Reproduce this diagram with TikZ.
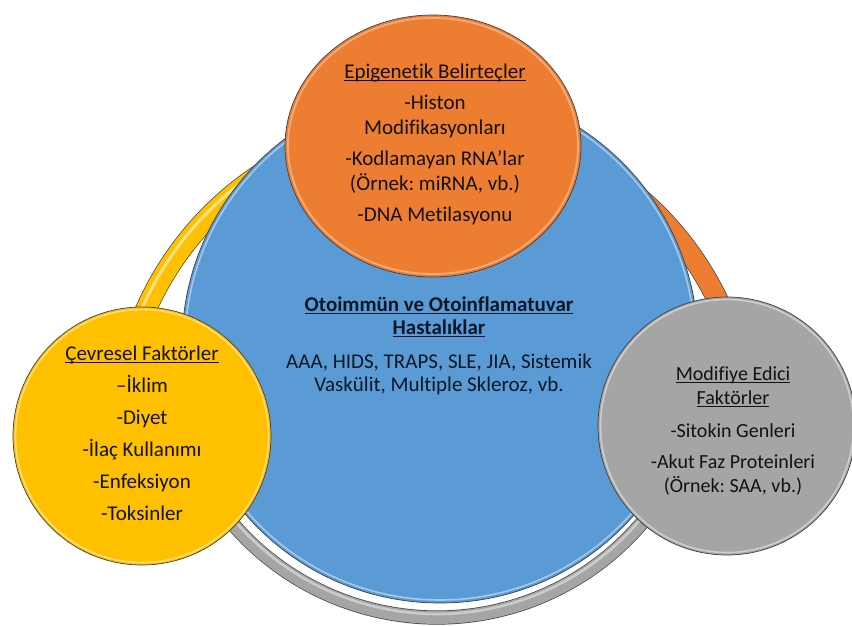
\documentclass[tikz,border=0pt]{standalone}
\usepackage{fontspec}
\setmainfont{Carlito}[Ligatures=NoCommon]
\frenchspacing
\usetikzlibrary{shapes.geometric}
\definecolor{cblue}{HTML}{5B9BD5}
\definecolor{corange}{HTML}{ED7D31}
\definecolor{cyellow}{HTML}{FFC000}
\definecolor{cgray}{HTML}{A5A5A5}
\definecolor{ctext}{HTML}{121212}
\definecolor{cbluetext}{HTML}{0E1726}
\definecolor{cline}{HTML}{404040}
\newcommand\ulx[1]{\setbox0\hbox{#1}\rlap{\rule[-2.6pt]{\wd0}{1.1pt}}\box0}
\begin{document}
\begin{tikzpicture}[x=1pt,y=1pt,
  disc/.style={circle, draw=cline, line width=0.7pt, inner sep=0pt},
  oval/.style={ellipse, draw=cline, line width=0.7pt, inner sep=0pt},
  txt/.style={align=center, text=ctext, inner sep=0pt},
  bandline/.style={cline, line width=#1},
]
\useasboundingbox (0,0) rectangle (852,625);
\fill[white] (0,0) rectangle (852,625);

\coordinate (rc) at (434,188);
\coordinate (gc) at (437,277);

% yellow band
\draw[bandline=21.4pt] (rc) ++(180:315) arc[start angle=180, end angle=112, radius=315];
\draw[cyellow, line width=20pt] (rc) ++(180:315) arc[start angle=180, end angle=112, radius=315];
\draw[cyellow!35!white, line width=3pt, opacity=.8] (rc) ++(180:319) arc[start angle=180, end angle=112, radius=319];
% orange band
\draw[bandline=21.4pt] (rc) ++(68:315) arc[start angle=68, end angle=0, radius=315];
\draw[corange, line width=20pt] (rc) ++(68:315) arc[start angle=68, end angle=0, radius=315];
% gray band
\draw[bandline=14.2pt] (gc) ++(-150:269.5) arc[start angle=-150, end angle=-30, radius=269.5];
\draw[cgray, line width=12.8pt] (gc) ++(-150:269.5) arc[start angle=-150, end angle=-30, radius=269.5];
\draw[cgray!45!white, line width=2.5pt, opacity=.8] (gc) ++(-150:266) arc[start angle=-150, end angle=-30, radius=266];

% centre circle
\node[disc, fill=cblue, minimum size=516pt] (blue) at (440,280) {};
\draw[white, opacity=.45, line width=1.6pt] (blue.center) circle (255);

% satellites
\node[oval, fill=corange, minimum width=296pt, minimum height=262pt] (orange) at (433,479) {};
\draw[white, opacity=.35, line width=1.8pt] (orange.center) ellipse (145 and 128);
\node[disc, fill=cyellow, minimum size=258pt] (yellow) at (142,189) {};
\draw[white, opacity=.45, line width=1.6pt] (yellow.center) circle (126.5);
\node[disc, fill=cgray, minimum size=258pt] (gray) at (727,199) {};
\draw[white, opacity=.45, line width=1.6pt] (gray.center) circle (126.5);

% texts
\node[txt, text=cbluetext, font=\fontsize{21}{23}\selectfont] (blueTxt) at (439,279.5)
  {\ulx{\textbf{Otoimmün ve Otoinflamatuvar}}\\\ulx{\textbf{Hastalıklar}}\\[11pt]
   AAA, HIDS, TRAPS, SLE, JIA, Sistemik\\Vaskülit, Multiple Skleroz, vb.};
\node[txt, font=\fontsize{21}{25}\selectfont] (orangeTxt) at (435,481)
  {\ulx{Epigenetik Belirteçler}\\[6pt]-Histon\\Modifikasyonları\\[6pt]-Kodlamayan RNA’lar\\(Örnek: miRNA, vb.)\\[6pt]-DNA Metilasyonu};
\node[txt, font=\fontsize{21}{25}\selectfont] (yellowTxt) at (142,192)
  {\ulx{Çevresel Faktörler}\\[7pt]–İklim\\[7pt]-Diyet\\[7pt]-İlaç Kullanımı\\[7pt]-Enfeksiyon\\[7pt]-Toksinler};
\node[txt, font=\fontsize{20}{24}\selectfont] (grayTxt) at (733,194)
  {\ulx{Modifiye Edici}\\\ulx{Faktörler}\\[9pt]-Sitokin Genleri\\[7pt]-Akut Faz Proteinleri\\(Örnek: SAA, vb.)};
\end{tikzpicture}
\end{document}
